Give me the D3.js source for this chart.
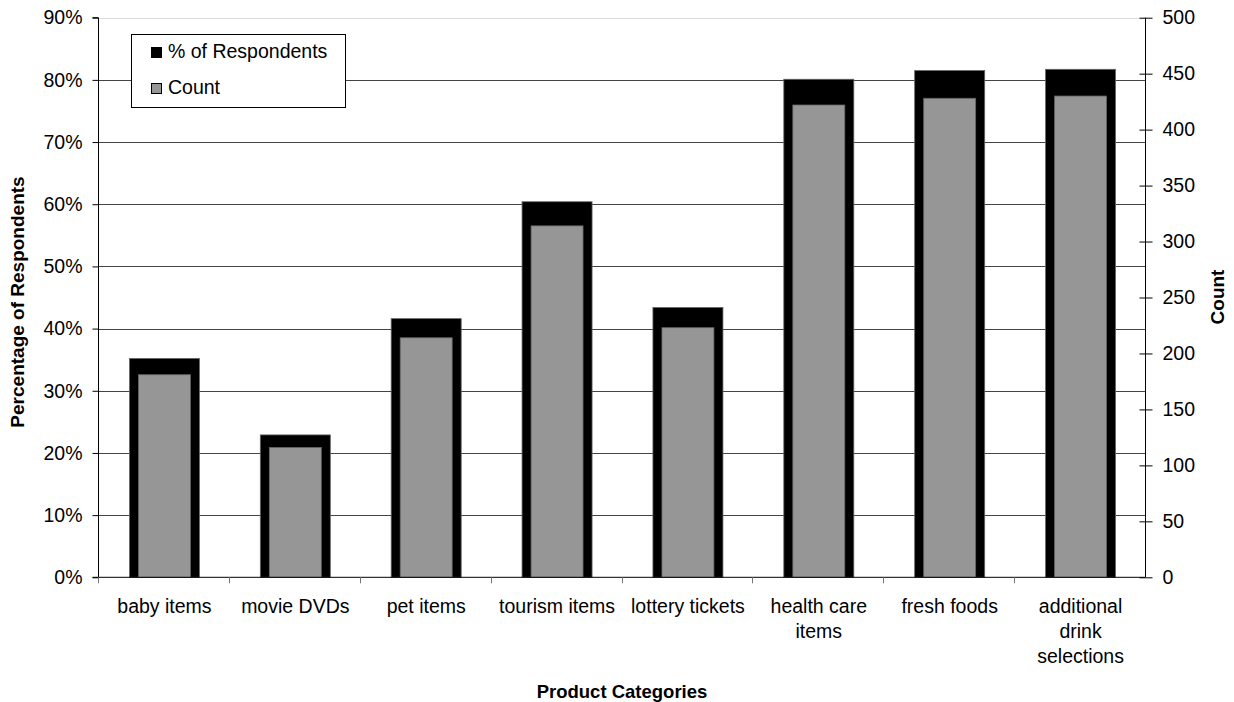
<!DOCTYPE html>
<html>
<head>
<meta charset="utf-8">
<script src="https://cdn.jsdelivr.net/npm/d3@7"></script>
<style>
  html, body { margin: 0; padding: 0; background: #fff; }
  svg { display: block; font-family: "Liberation Sans", Arial, sans-serif; }
</style>
</head>
<body>
<svg id="chart" width="1234" height="702"></svg>
<script>
// Product categories (line breaks mark where the axis label wraps)
const categories = [
  "baby items", "movie DVDs", "pet items", "tourism items", "lottery tickets",
  "health care\nitems", "fresh foods", "additional\ndrink\nselections"
];
// Share of respondents choosing each category (left axis)
const pctRespondents = [0.352, 0.229, 0.416, 0.604, 0.434, 0.801, 0.815, 0.817];
// Number of respondents choosing each category (right axis)
const counts = [181, 116, 214, 314, 223, 422, 428, 430];
// Axis ticks
const pctTicks = [0, 0.1, 0.2, 0.3, 0.4, 0.5, 0.6, 0.7, 0.8, 0.9];
const countTicks = [0, 50, 100, 150, 200, 250, 300, 350, 400, 450, 500];
const seriesNames = ["% of Respondents", "Count"];

const svg = d3.select("#chart");
const plotLeft = 98, plotRight = 1145, plotTop = 17.7, plotBottom = 577.3;
const FS = 19.5;

const x = d3.scaleBand().domain(categories).range([plotLeft, plotRight]).paddingInner(0).paddingOuter(0);
const yPct = d3.scaleLinear().domain([0, 0.9]).range([plotBottom, plotTop]);
const yCount = d3.scaleLinear().domain([0, 500]).range([plotBottom, plotTop]);

// Horizontal gridlines
svg.append("g").selectAll("line").data(pctTicks.filter(d => d > 0)).join("line")
  .attr("x1", plotLeft).attr("x2", plotRight)
  .attr("y1", d => Math.round(yPct(d)) + 0.5).attr("y2", d => Math.round(yPct(d)) + 0.5)
  .attr("stroke", d => d >= 0.9 ? "#dcdcdc" : "#444")
  .attr("stroke-width", 1);

const bw = x.bandwidth();
const outerW = bw * 0.535, innerW = bw * 0.397;

// Percentage bars (black, wide)
svg.append("g").selectAll("rect").data(pctRespondents).join("rect")
  .attr("x", (d, i) => x(categories[i]) + (bw - outerW) / 2 + 1)
  .attr("width", outerW)
  .attr("y", d => yPct(d))
  .attr("height", d => plotBottom - yPct(d))
  .attr("fill", "#000")
  .attr("stroke", "#666").attr("stroke-width", 0.8);

// Count bars (grey, narrow, secondary axis)
svg.append("g").selectAll("rect").data(counts).join("rect")
  .attr("x", (d, i) => x(categories[i]) + (bw - innerW) / 2 + 1)
  .attr("width", innerW)
  .attr("y", d => yCount(d))
  .attr("height", d => plotBottom - yCount(d))
  .attr("fill", "#969696")
  .attr("stroke", "#666").attr("stroke-width", 0.8);

// Left axis
const yAxisL = d3.axisLeft(yPct).tickValues(pctTicks).tickFormat(d3.format(".0%")).tickSize(6).tickPadding(10);
const gL = svg.append("g").attr("transform", `translate(${plotLeft + 0.5},0)`).call(yAxisL);
gL.select(".domain").attr("d", `M-6,${plotTop}H0V${plotBottom}H-6`).attr("stroke", "#000");
gL.selectAll(".tick line").attr("stroke", "#000");
gL.selectAll(".tick text").attr("font-size", FS).attr("fill", "#000")
  .attr("font-family", "Liberation Sans, Arial, sans-serif");

// Right axis
const yAxisR = d3.axisRight(yCount).tickValues(countTicks).tickSize(7).tickPadding(10);
const gR = svg.append("g").attr("transform", `translate(${plotRight + 0.5},0)`).call(yAxisR);
gR.select(".domain").attr("d", `M0,${plotTop}V${plotBottom}`).attr("stroke", "#000");
gR.selectAll(".tick line").attr("x1", -6).attr("stroke", "#000");
gR.selectAll(".tick text").attr("font-size", FS).attr("fill", "#000")
  .attr("font-family", "Liberation Sans, Arial, sans-serif");

// Bottom axis line with tick marks at category boundaries
const gB = svg.append("g");
gB.append("line").attr("x1", plotLeft).attr("x2", plotRight)
  .attr("y1", plotBottom).attr("y2", plotBottom).attr("stroke", "#000");
gB.selectAll("line.tk").data(categories).join("line").attr("class", "tk")
  .attr("x1", d => Math.round(x(d)) + 0.5).attr("x2", d => Math.round(x(d)) + 0.5)
  .attr("y1", plotBottom).attr("y2", plotBottom + 6).attr("stroke", "#777");

// Category labels
gB.selectAll("text.cat").data(categories).join("text").attr("class", "cat")
  .attr("text-anchor", "middle").attr("font-size", FS).attr("fill", "#000")
  .each(function (d) {
    const t = d3.select(this);
    d.split("\n").forEach((line, j) => {
      t.append("tspan").attr("x", x(d) + bw / 2 + 1).attr("y", 613 + j * 25).text(line);
    });
  });

// Axis titles
svg.append("text").attr("x", 622).attr("y", 698).attr("text-anchor", "middle")
  .attr("font-size", 18.5).attr("font-weight", "bold").text("Product Categories");
svg.append("text").attr("transform", "translate(24,302) rotate(-90)").attr("text-anchor", "middle")
  .attr("font-size", 19).attr("font-weight", "bold").text("Percentage of Respondents");
svg.append("text").attr("transform", "translate(1224,297) rotate(-90)").attr("text-anchor", "middle")
  .attr("font-size", 19).attr("font-weight", "bold").text("Count");

// Legend
const lg = svg.append("g");
lg.append("rect").attr("x", 131.5).attr("y", 34.5).attr("width", 214).attr("height", 73)
  .attr("fill", "#fff").attr("stroke", "#000");
const swatch = ["#000", "#969696"];
seriesNames.forEach((name, i) => {
  const base = 58 + i * 36;
  lg.append("rect").attr("x", 151.5).attr("y", base - 10.5).attr("width", 10).attr("height", 10)
    .attr("fill", swatch[i]).attr("stroke", "#000");
  lg.append("text").attr("x", 168).attr("y", base).attr("font-size", FS).text(name);
});
</script>
</body>
</html>
